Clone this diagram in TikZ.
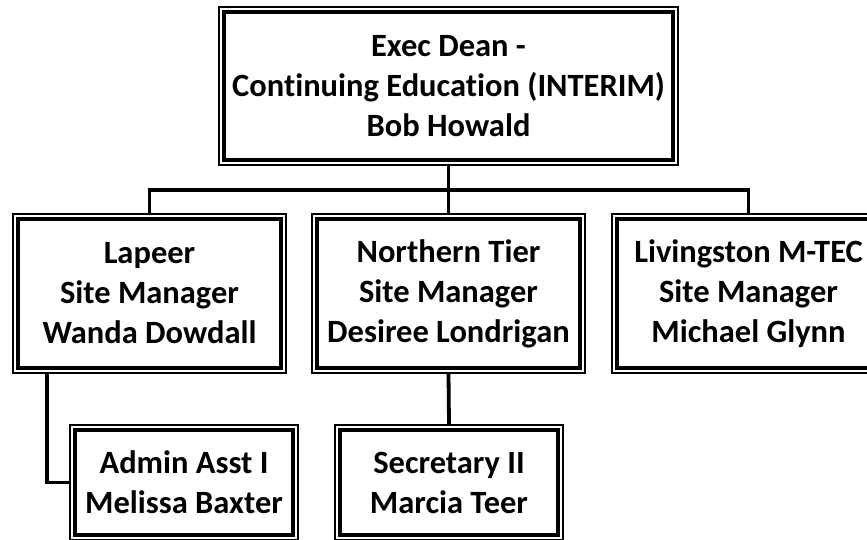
\documentclass[tikz,border=0pt]{standalone}
\usepackage{fontspec}
\setmainfont{Carlito}[Ligatures=NoCommon]
\usepackage{xcolor}
\usepackage{tikz}
\usetikzlibrary{positioning,calc}
\definecolor{ink}{HTML}{000000}
\tikzset{
  post/.style={rectangle, draw=ink, line width=3.6pt, align=center, inner sep=0pt, outer sep=5pt,
    font=\bfseries\fontsize{32.5}{40}\selectfont,
    append after command={\pgfextra{\draw[ink, line width=1.3pt] (\tikzlastnode.north west) rectangle (\tikzlastnode.south east);}}},
  headpost/.style={post, minimum width=449pt, minimum height=148pt},
  sitepost/.style={post, minimum width=263pt, minimum height=149pt},
  staffpost/.style={post, minimum width=218pt, minimum height=105pt},
  link/.style={draw=ink, line width=3.8pt}
}
\begin{document}
\begin{tikzpicture}[x=1pt, y=1pt]
  \useasboundingbox (0,0) rectangle (867,-539);

  \node[headpost] (exec) at (448.5,-86) {Exec Dean -\\Continuing Education (INTERIM)\\Bob Howald};

  \node[sitepost] (lapeer) at (149.5,-293.5) {Lapeer\\Site Manager\\Wanda Dowdall};
  \node[sitepost] (northern) at (448.5,-293.5) {Northern Tier\\Site Manager\\Desiree Londrigan};
  \node[sitepost] (livingston) at (748.5,-293.5) {Livingston M-TEC\\Site Manager\\Michael Glynn};

  \node[staffpost] (admin) at (184,-482.5) {Admin Asst I\\Melissa Baxter};
  \node[staffpost] (secretary) at (449,-482.5) {Secretary II\\Marcia Teer};

  \coordinate (bus) at (448.5,-190);
  \draw[link] (exec.south) -- (bus);
  \draw[link] (lapeer.north) |- (bus) -| (livingston.north);
  \draw[link] (bus) -- (northern.north);
  \draw[link] (northern.south) -- (secretary.north);
  \draw[link] ([xshift=34pt]lapeer.south west) |- (admin.west);
\end{tikzpicture}
\end{document}
